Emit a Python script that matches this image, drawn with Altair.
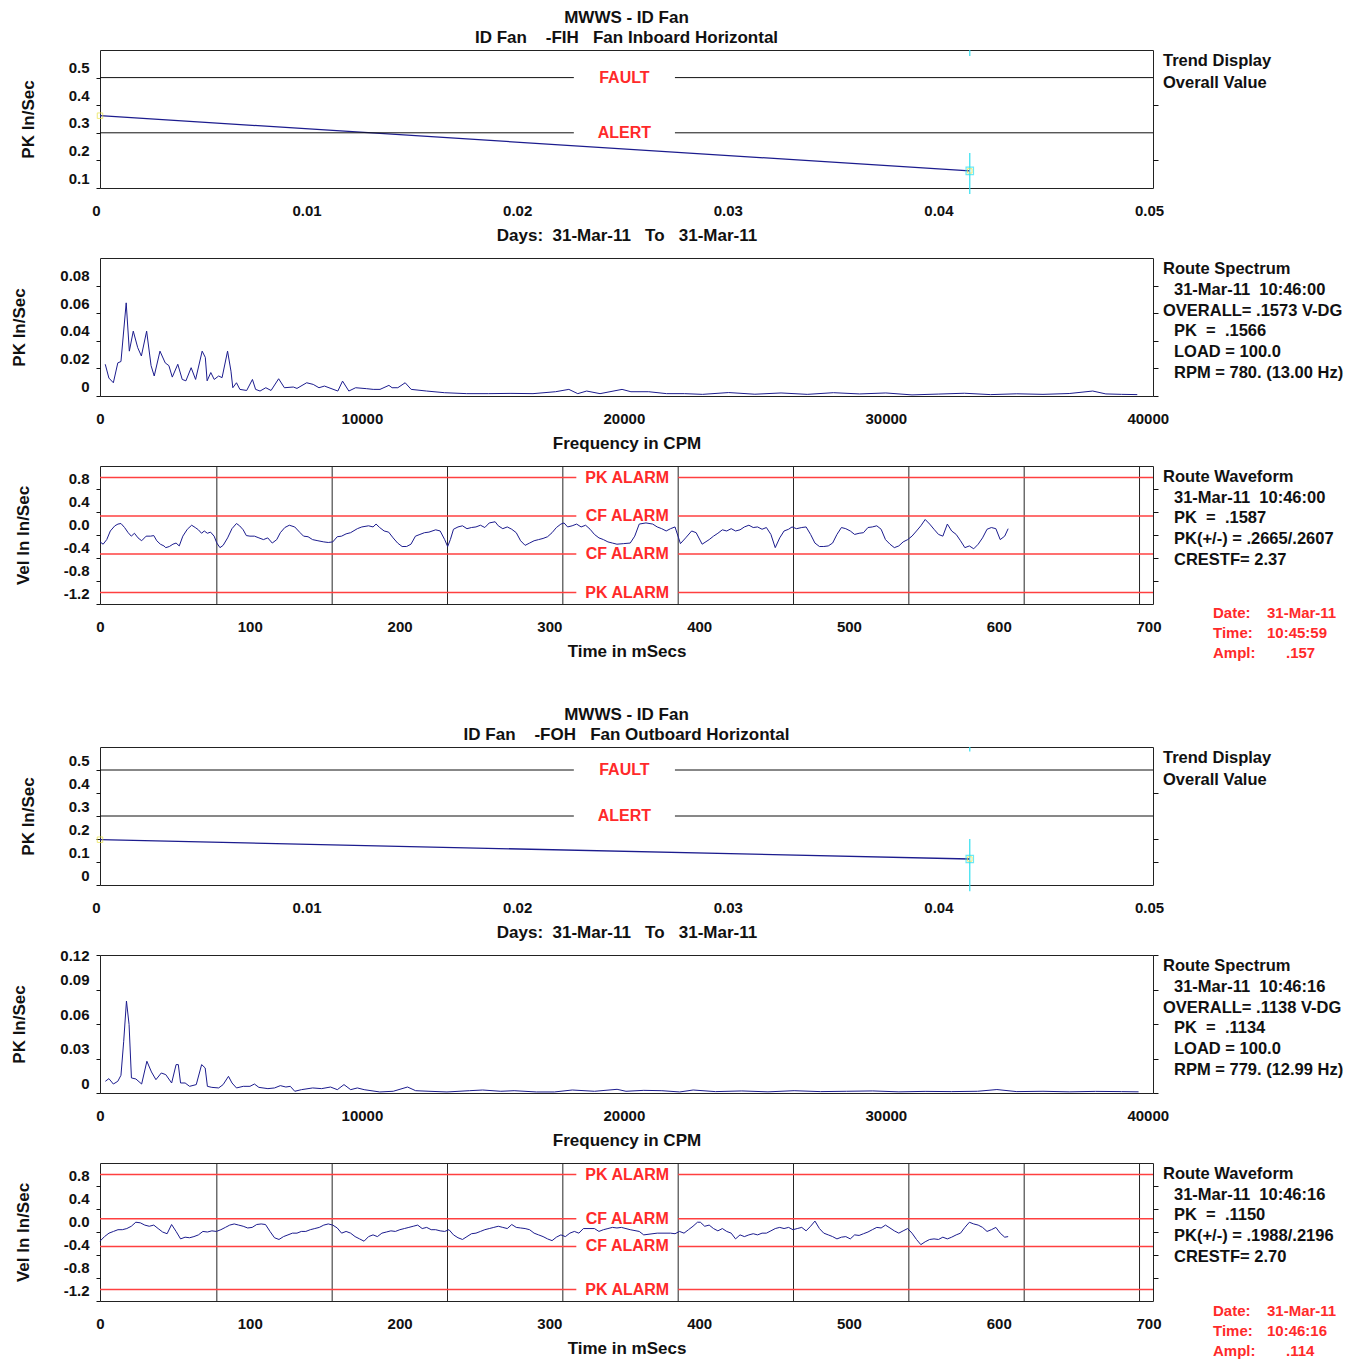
import altair as alt
import pandas as pd

FONT = "Liberation Sans"
INK = "#111111"
NAVY = "#1c1c8e"
RED = "#ff2a2a"
ALARM_RED = "#ff4040"
CYAN = "#30e0f0"
W = 1053
H = 138

# ---------------- data ----------------
# Trend displays (days vs overall PK in/sec)
trend_x_domain = [0.0, 0.05]
trend_x_ticks = [0.0, 0.01, 0.02, 0.03, 0.04, 0.05]
trend_limit_names = ["FAULT", "ALERT"]
trend_limit_vals = [0.5, 0.3]
trend_label_gap = [0.0225, 0.0273]

trend1_days = [0.0, 0.0413]
trend1_vals = [0.362, 0.162]
trend1_y_domain = [0.1, 0.6]
trend1_y_ticks = [0.1, 0.2, 0.3, 0.4, 0.5]
trend1_right_ticks = [0.2, 0.4]
trend1_cursor_lo = [0.078, 0.578]
trend1_cursor_hi = [0.227, 0.6]

trend2_days = [0.0, 0.0413]
trend2_vals = [0.197, 0.113]
trend2_y_domain = [0.0, 0.6]
trend2_y_ticks = [0.0, 0.1, 0.2, 0.3, 0.4, 0.5]
trend2_right_ticks = [0.1, 0.2, 0.4]
trend2_cursor_lo = [-0.027, 0.58]
trend2_cursor_hi = [0.2, 0.6]
cursor_day = 0.0413

# Spectra (CPM vs PK in/sec)
spec_x_domain = [0, 40200]
spec_x_ticks = [0, 10000, 20000, 30000, 40000]

spec1_cpm = [200, 340, 510, 680, 800, 1000, 1120, 1270, 1440, 1580, 1780, 1950, 2070, 2290, 2490,
             2630, 2760, 2970, 3140, 3280, 3480, 3650, 3900, 4020, 4090, 4230, 4360, 4530, 4660,
             4870, 5000, 5070, 5210, 5340, 5600, 5820, 5940, 6110, 6330, 6530, 6820, 7040, 7380,
             7520, 7890, 8140, 8360, 8570, 9080, 9260, 9500, 9760, 10180, 10430, 10690, 11030,
             11150, 11370, 11650, 11880, 12470, 13150, 14000, 14840, 15690, 16530, 17390, 17900,
             18240, 18580, 19090, 19930, 20270, 20950, 21630, 22310, 23000, 24000, 25000, 26000,
             27000, 28000, 29000, 30000, 31000, 32000, 33000, 34000, 35000, 36000, 37000, 37900,
             38400, 39000, 39600]
spec1_amp = [0.023, 0.013, 0.0096, 0.024, 0.025, 0.0675, 0.0325, 0.047, 0.035, 0.029, 0.047, 0.022,
             0.0145, 0.0325, 0.024, 0.022, 0.0137, 0.023, 0.012, 0.011, 0.0205, 0.012, 0.0325, 0.028,
             0.011, 0.017, 0.012, 0.0145, 0.0133, 0.0325, 0.018, 0.006, 0.0096, 0.0048, 0.004, 0.012,
             0.0048, 0.0036, 0.006, 0.004, 0.0125, 0.006, 0.0065, 0.0055, 0.0096, 0.0084, 0.006,
             0.0072, 0.0036, 0.0108, 0.0036, 0.006, 0.0053, 0.0048, 0.0048, 0.0077, 0.006, 0.006,
             0.0096, 0.0048, 0.0036, 0.0024, 0.0017, 0.0017, 0.0019, 0.0017, 0.0031, 0.0048, 0.0017,
             0.0036, 0.0017, 0.0048, 0.0031, 0.0031, 0.0017, 0.0017, 0.0012, 0.0025, 0.0013, 0.0022,
             0.0012, 0.0024, 0.0015, 0.0022, 0.0008, 0.0014, 0.0020, 0.0010, 0.0016, 0.0012, 0.0018,
             0.0036, 0.0015, 0.0012, 0.0010]
spec1_y_domain = [0.0, 0.1]
spec1_y_ticks = [0.0, 0.02, 0.04, 0.06, 0.08]

spec2_cpm = [205, 340, 510, 680, 800, 905, 1010, 1110, 1200, 1370, 1590, 1790, 1965, 2135, 2340,
             2510, 2735, 2905, 2990, 3075, 3250, 3420, 3675, 3880, 4015, 4100, 4270, 4530, 4700,
             4905, 5040, 5210, 5470, 5725, 5895, 6065, 6410, 6665, 6885, 7095, 7265, 7435, 7690,
             8120, 8460, 8800, 9060, 9315, 9570, 9825, 10085, 10680, 11195, 11740, 12050, 12560,
             13245, 14100, 14610, 15300, 15810, 16660, 17350, 18030, 18880, 19740, 20080, 20760,
             21450, 22130, 22645, 23500, 24500, 25500, 26500, 27500, 28500, 29500, 30500, 31500,
             32500, 33500, 34240, 35000, 36000, 37000, 38000, 39000, 39650]
spec2_amp = [0.0102, 0.0125, 0.0078, 0.0102, 0.0154, 0.045, 0.080, 0.0596, 0.0131, 0.0122, 0.0078,
             0.0276, 0.0183, 0.0116, 0.0174, 0.016, 0.0087, 0.0247, 0.0247, 0.0087, 0.0087, 0.0058,
             0.0073, 0.0247, 0.0218, 0.0058, 0.0049, 0.0044, 0.0073, 0.0145, 0.0087, 0.0044, 0.0058,
             0.0058, 0.0078, 0.0049, 0.0038, 0.0044, 0.0064, 0.0052, 0.0058, 0.0015, 0.0029, 0.0044,
             0.0038, 0.0052, 0.0029, 0.0073, 0.0029, 0.0044, 0.0029, 0.0009, 0.0015, 0.0052, 0.002,
             0.0015, 0.0009, 0.002, 0.0026, 0.0015, 0.002, 0.0009, 0.0009, 0.0026, 0.0015, 0.0032,
             0.0015, 0.0023, 0.002, 0.0009, 0.0026, 0.0012, 0.0018, 0.0010, 0.0020, 0.0012, 0.0015,
             0.0018, 0.0010, 0.0014, 0.0012, 0.0015, 0.0030, 0.0012, 0.0015, 0.0010, 0.0014, 0.0012,
             0.0010]
spec2_y_domain = [0.0, 0.12]
spec2_y_ticks = [0.0, 0.03, 0.06, 0.09, 0.12]

# Waveforms (ms vs velocity in/sec)
wave_x_domain = [0, 703]
wave_x_ticks = [0, 100, 200, 300, 400, 500, 600, 700]
wave_y_domain = [-1.2, 1.2]
wave_y_ticks = [0.8, 0.4, 0.0, -0.4, -0.8, -1.2]
wave_right_ticks = [0.8, 0.4, 0.0, -0.4, -0.8]
wave_rev_marks = [78, 155, 232, 309, 386, 463, 540, 617, 694]
wave_alarm_names = ["PK ALARM", "CF ALARM", "CF ALARM", "PK ALARM"]
wave1_alarm_vals = [1.0, 0.33, -0.33, -1.0]
wave2_alarm_vals = [1.0, 0.23, -0.25, -1.0]
wave_label_gap = [318, 386]

wave1_ms = [0, 2.1, 4.5, 6.9, 9.9, 12.0, 14.0, 16.4, 18.8, 20.9, 23.0, 25.4, 27.8, 30.8, 33.8, 35.9,
            37.9, 40.3, 42.7, 43.9, 46.3, 48.7, 50.8, 52.9, 55.3, 58.3, 61.2, 63.6, 65.7, 67.8, 69.6,
            71.7, 73.8, 76.2, 78.0, 80.1, 82.2, 85.2, 88.1, 91.1, 93.2, 95.6, 97.7, 100.1, 103.1,
            106.1, 109.1, 112.0, 115.0, 118.0, 120.4, 123.4, 126.4, 130.0, 133.6, 135.9, 138.9,
            141.9, 145.5, 149.4, 152.4, 155.4, 158.4, 161.3, 164.3, 167.3, 171.8, 174.8, 179.3,
            182.3, 184.3, 186.7, 189.7, 192.7, 195.7, 198.7, 201.7, 204.7, 207.6, 210.6, 213.6,
            216.6, 219.6, 224.1, 227.1, 230.1, 232.1, 233.9, 236.0, 239.0, 242.0, 245.0, 248.0,
            251.0, 254.0, 256.9, 259.9, 263.8, 265.9, 268.9, 271.9, 274.9, 277.9, 280.8, 283.8,
            286.8, 289.8, 292.8, 295.8, 298.8, 301.8, 304.7, 307.7, 309.8, 312.2, 315.2, 318.2,
            321.2, 324.2, 327.2, 330.1, 333.1, 336.1, 339.1, 342.1, 345.1, 349.6, 354.0, 357.0,
            360.0, 364.5, 369.0, 372.0, 375.0, 378.0, 380.9, 383.9, 387.5, 391.0, 395.0, 398.0,
            402.0, 406.7, 409.6, 412.5, 415.5, 418.4, 421.4, 424.3, 427.3, 430.2, 433.2, 436.1,
            439.0, 442.0, 444.9, 447.9, 450.8, 453.8, 456.7, 459.7, 462.0, 465.0, 468.5, 471.4,
            474.4, 477.3, 480.3, 483.2, 486.2, 489.1, 492.0, 495.0, 497.9, 500.9, 503.8, 506.8,
            509.7, 512.7, 515.6, 518.6, 521.5, 524.4, 527.4, 530.3, 533.3, 536.2, 539.2, 542.1,
            545.1, 548.0, 550.9, 553.9, 556.8, 559.8, 562.7, 565.7, 568.6, 571.6, 574.5, 577.4,
            580.4, 583.3, 586.3, 589.2, 592.2, 595.1, 598.1, 601.0, 604.0, 606.3]
wave1_vel = [-0.12, -0.16, -0.08, 0.07, 0.16, 0.19, 0.20, 0.13, 0.04, -0.02, 0.03, -0.05, -0.10,
             -0.02, -0.02, -0.01, -0.10, -0.16, -0.19, -0.22, -0.20, -0.16, -0.14, -0.19, -0.02,
             0.10, 0.17, 0.13, 0.09, 0.03, 0.07, 0.03, 0.05, -0.02, -0.14, -0.22, -0.18, -0.05,
             0.11, 0.20, 0.16, 0.09, -0.01, -0.02, -0.02, -0.05, -0.08, -0.05, -0.14, -0.08, 0.04,
             0.13, 0.17, 0.14, 0.04, -0.02, -0.03, -0.08, -0.10, -0.12, -0.13, -0.12, -0.03, -0.02,
             0.02, 0.04, 0.11, 0.14, 0.16, 0.14, 0.19, 0.13, 0.07, 0.05, -0.05, -0.14, -0.20, -0.20,
             -0.16, -0.02, 0.01, 0.04, 0.05, 0.09, 0.07, -0.08, -0.20, -0.08, 0.10, 0.14, 0.16,
             0.11, 0.13, 0.14, 0.17, 0.13, 0.21, 0.23, 0.16, 0.11, 0.14, 0.10, 0.04, -0.10, -0.18,
             -0.14, -0.10, -0.08, -0.06, -0.03, 0.04, 0.13, 0.19, 0.21, 0.14, 0.16, 0.19, 0.14,
             0.17, 0.10, 0.01, -0.05, -0.08, -0.12, -0.14, -0.16, -0.15, -0.14, -0.02, 0.19, 0.21,
             0.19, 0.14, 0.11, 0.07, 0.11, 0.14, -0.15, -0.05, 0.07, 0.04, -0.16, -0.08, -0.02,
             0.03, 0.09, 0.07, 0.11, 0.07, 0.09, 0.14, 0.17, 0.13, 0.14, 0.10, 0.13, 0.01, -0.22,
             -0.05, 0.07, 0.10, 0.14, 0.11, 0.13, 0.14, 0.01, -0.14, -0.20, -0.20, -0.19, -0.14,
             0.01, 0.13, 0.11, 0.07, 0.01, 0.03, 0.04, 0.13, 0.14, 0.16, 0.10, -0.08, -0.16, -0.22,
             -0.19, -0.12, -0.08, -0.02, 0.07, 0.16, 0.27, 0.19, 0.10, 0.01, -0.02, 0.19, 0.07,
             0.01, -0.10, -0.22, -0.19, -0.24, -0.16, -0.05, 0.10, 0.13, 0.11, -0.08, -0.02, 0.11]

wave2_ms = [0, 3.0, 6.0, 9.0, 12.0, 14.9, 17.9, 20.9, 23.9, 26.9, 29.9, 32.9, 35.9, 38.8, 41.8, 44.8,
            47.8, 50.8, 53.8, 56.8, 59.8, 62.7, 65.7, 68.7, 71.7, 74.7, 77.7, 80.7, 83.7, 86.6, 89.6,
            92.6, 95.6, 98.6, 101.6, 104.6, 107.6, 110.5, 113.5, 116.5, 119.5, 122.5, 125.5, 128.5,
            131.5, 134.4, 137.4, 140.4, 143.4, 146.4, 149.4, 152.4, 155.4, 158.4, 161.3, 164.3,
            167.3, 170.3, 173.3, 176.3, 179.3, 182.3, 185.2, 188.2, 191.2, 194.2, 197.2, 200.2,
            203.2, 206.2, 209.1, 212.1, 215.1, 218.1, 221.1, 224.1, 227.1, 230.1, 233.0, 236.0,
            239.0, 242.0, 245.0, 248.0, 251.0, 254.0, 256.9, 259.9, 262.9, 265.9, 268.9, 271.9,
            274.9, 277.9, 280.8, 283.8, 286.8, 289.8, 292.8, 295.8, 298.8, 301.8, 304.7, 307.7,
            310.7, 313.7, 316.7, 319.7, 322.7, 330.1, 333.1, 336.1, 339.1, 342.1, 345.1, 348.1,
            354.0, 360.0, 363.0, 372.0, 380.9, 383.9, 386.9, 389.9, 392.9, 395.9, 398.9, 400.8,
            403.7, 406.7, 409.6, 412.5, 415.5, 418.4, 421.4, 424.3, 427.3, 430.2, 433.2, 436.1,
            439.0, 442.0, 444.9, 447.9, 450.8, 453.8, 456.7, 459.7, 462.6, 465.5, 468.5, 471.4,
            474.4, 477.3, 480.3, 483.2, 486.2, 489.1, 492.0, 495.0, 497.9, 500.9, 503.8, 506.8,
            509.7, 512.7, 515.6, 518.6, 521.5, 524.4, 527.4, 530.3, 533.3, 536.2, 539.2, 542.1,
            545.1, 548.0, 550.9, 553.9, 556.8, 559.8, 562.7, 565.7, 568.6, 571.6, 574.5, 577.4,
            580.4, 583.3, 586.3, 589.2, 592.2, 595.1, 598.1, 601.0, 604.0, 606.3]
wave2_vel = [-0.16, -0.08, -0.02, 0.01, 0.04, 0.04, 0.06, 0.10, 0.17, 0.16, 0.12, 0.10, 0.12, 0.06,
             0.00, -0.03, 0.13, 0.01, -0.12, -0.09, -0.10, -0.08, -0.05, 0.01, 0.00, 0.02, 0.01,
             0.04, 0.08, 0.12, 0.14, 0.12, 0.10, 0.07, 0.08, 0.13, 0.14, 0.13, 0.01, -0.10, -0.13,
             -0.08, -0.05, -0.02, -0.02, 0.01, 0.01, 0.04, 0.06, 0.08, 0.12, 0.14, 0.12, 0.07,
             -0.02, 0.01, -0.02, -0.08, -0.12, -0.16, -0.08, -0.05, -0.08, -0.02, 0.00, 0.02, 0.01,
             0.04, 0.06, 0.08, 0.10, 0.12, 0.06, 0.08, 0.04, 0.04, 0.02, 0.01, 0.04, -0.05, -0.10,
             -0.13, -0.08, -0.03, -0.02, 0.01, 0.04, 0.06, 0.08, 0.10, 0.08, 0.06, 0.13, 0.08, 0.07,
             0.06, 0.04, -0.02, -0.05, -0.08, -0.12, -0.15, -0.09, -0.05, -0.08, -0.02, 0.01, -0.02,
             0.06, 0.06, 0.01, 0.04, 0.06, 0.08, 0.07, 0.08, 0.04, 0.01, -0.05, -0.02, -0.02, -0.03,
             0.01, -0.02, 0.04, 0.10, 0.17, 0.17, 0.10, 0.12, 0.06, 0.02, 0.06, 0.01, -0.02, -0.12,
             -0.05, -0.08, -0.05, -0.03, -0.05, -0.02, -0.02, 0.02, 0.06, 0.08, 0.06, 0.08, 0.04,
             0.06, 0.08, 0.02, 0.10, 0.19, 0.06, -0.02, -0.05, -0.08, -0.12, -0.09, -0.08, -0.12,
             -0.05, -0.06, -0.03, 0.00, 0.04, 0.08, 0.07, 0.12, 0.07, 0.02, -0.02, 0.02, 0.06,
             -0.02, -0.13, -0.22, -0.17, -0.13, -0.12, -0.13, -0.09, -0.12, -0.09, -0.05, -0.02,
             0.08, 0.17, 0.14, 0.12, 0.08, 0.01, 0.04, 0.08, -0.02, -0.09, -0.08]

# Text blocks
panel_title = "MWWS - ID Fan"
sub1 = "ID Fan    -FIH   Fan Inboard Horizontal"
sub2 = "ID Fan    -FOH   Fan Outboard Horizontal"
trend_xtitle = "Days:  31-Mar-11   To   31-Mar-11"
spec_xtitle = "Frequency in CPM"
wave_xtitle = "Time in mSecs"

trend_info = ["Trend Display", "Overall Value"]
spec1_info = ["Route Spectrum", "  31-Mar-11  10:46:00", "OVERALL= .1573 V-DG", "  PK  =  .1566",
              "  LOAD = 100.0", "  RPM = 780. (13.00 Hz)"]
spec2_info = ["Route Spectrum", "  31-Mar-11  10:46:16", "OVERALL= .1138 V-DG", "  PK  =  .1134",
              "  LOAD = 100.0", "  RPM = 779. (12.99 Hz)"]
wave1_info = ["Route Waveform", "  31-Mar-11  10:46:00", "  PK  =  .1587", "  PK(+/-) = .2665/.2607",
              "  CRESTF= 2.37"]
wave2_info = ["Route Waveform", "  31-Mar-11  10:46:16", "  PK  =  .1150", "  PK(+/-) = .1988/.2196",
              "  CRESTF= 2.70"]
wave1_red = [("Date:", "31-Mar-11"), ("Time:", "10:45:59"), ("Ampl:", ".157")]
wave2_red = [("Date:", "31-Mar-11"), ("Time:", "10:46:16"), ("Ampl:", ".114")]


def keep_spaces(s):
    return s.replace(" ", "\u00a0")


# ---------------- helpers ----------------
def x_axis(values, title, expr, offset=0):
    return alt.Axis(values=values, title=keep_spaces(title), labelExpr=expr, ticks=False, domain=False,
                    grid=False, labelFlush=False, labelOverlap=False, labelPadding=15, labelOffset=offset,
                    labelFont=FONT, labelFontSize=15, labelFontWeight="bold", labelColor=INK,
                    titleFont=FONT, titleFontSize=17, titleFontWeight="bold", titleColor=INK,
                    titlePadding=9)


def y_axis(values, title, expr, offset):
    return alt.Axis(values=values, title=title, labelExpr=expr, tickSize=4, tickColor=INK,
                    domain=False, grid=False, labelOverlap=False, labelPadding=7, labelOffset=offset,
                    labelFont=FONT, labelFontSize=15, labelFontWeight="bold", labelColor=INK,
                    titleFont=FONT, titleFontSize=17, titleFontWeight="bold", titleColor=INK,
                    titlePadding=31)


def right_axis(values):
    return alt.Axis(orient="right", values=values, labels=False, title="", tickSize=5, tickColor=INK,
                    domain=False, grid=False)


def text_layers(lines, x0, y0, step, color=INK, size=16.5, indent=11):
    out = []
    for i, s in enumerate(lines):
        dx = x0 + (indent if s.startswith("  ") else 0)
        out.append(
            alt.Chart(pd.DataFrame({"t": [keep_spaces(s.strip())]}))
            .mark_text(align="left", baseline="middle", font=FONT, fontSize=size, fontWeight="bold",
                       color=color)
            .encode(x=alt.value(dx), y=alt.value(y0 + i * step), text="t:N")
        )
    return out


def red_layers(pairs, y0):
    out = []
    for i, (a, b) in enumerate(pairs):
        for s, dx in ((a, 1113), (b, 1167 if len(b) > 5 else 1186)):
            out.append(
                alt.Chart(pd.DataFrame({"t": [s]}))
                .mark_text(align="left", baseline="middle", font=FONT, fontSize=15, fontWeight="bold",
                           color=RED)
                .encode(x=alt.value(dx), y=alt.value(y0 + i * 20), text="t:N")
            )
    return out


def title_params(sub):
    return alt.TitleParams(text=panel_title, subtitle=keep_spaces(sub), anchor="middle",
                           font=FONT, fontSize=17, fontWeight="bold", color=INK,
                           subtitleFont=FONT, subtitleFontSize=17, subtitleFontWeight="bold",
                           subtitleColor=INK, subtitlePadding=3, offset=2)


def segments(vals, gap, dom):
    rows = []
    for v in vals:
        rows.append({"a": dom[0], "b": gap[0], "v": v})
        rows.append({"a": gap[1], "b": dom[1], "v": v})
    return pd.DataFrame(rows)


def trend_panel(days, vals, ydom, yticks, rticks, clo, chi, sub, info_y0):
    xsc = alt.Scale(domain=trend_x_domain, nice=False, zero=False)
    ysc = alt.Scale(domain=ydom, nice=False, zero=False)
    df = pd.DataFrame({"day": days, "val": vals})
    line = alt.Chart(df).mark_line(color=NAVY, strokeWidth=1.3).encode(
        x=alt.X("day:Q", scale=xsc,
                axis=x_axis(trend_x_ticks, trend_xtitle,
                            "datum.value == 0 ? '0' : format(datum.value, '.2f')", -4)),
        y=alt.Y("val:Q", scale=ysc,
                axis=y_axis(yticks, "PK In/Sec",
                            "datum.value == 0 ? '0' : format(datum.value, '.1f')", -10)))
    rules = alt.Chart(segments(trend_limit_vals, trend_label_gap, trend_x_domain)).mark_rule(
        color=INK, strokeWidth=1).encode(
        x=alt.X("a:Q", scale=xsc), x2="b:Q",
        y=alt.Y("v:Q", scale=ysc, axis=right_axis(rticks)))
    lab = pd.DataFrame({"name": trend_limit_names, "v": trend_limit_vals,
                        "d": [sum(trend_label_gap) / 2] * len(trend_limit_vals)})
    labels = alt.Chart(lab).mark_text(color=RED, font=FONT, fontSize=16, fontWeight="bold",
                                      baseline="middle").encode(
        x=alt.X("d:Q", scale=xsc), y=alt.Y("v:Q", scale=ysc, axis=None), text="name:N")
    cur = pd.DataFrame({"d": [cursor_day] * len(clo), "lo": clo, "hi": chi})
    cursor = alt.Chart(cur).mark_rule(color=CYAN, strokeWidth=1.2).encode(
        x=alt.X("d:Q", scale=xsc), y=alt.Y("lo:Q", scale=ysc, axis=None), y2="hi:Q")
    end = alt.Chart(df.iloc[[-1]]).mark_point(shape="square", filled=False, color=CYAN, size=55,
                                              strokeWidth=1.2).encode(
        x=alt.X("day:Q", scale=xsc), y=alt.Y("val:Q", scale=ysc, axis=None))
    end_in = alt.Chart(df.iloc[[-1]]).mark_point(shape="square", filled=False, color="#e8e040",
                                                 size=20, strokeWidth=1).encode(
        x=alt.X("day:Q", scale=xsc), y=alt.Y("val:Q", scale=ysc, axis=None))
    start = alt.Chart(df.iloc[[0]]).mark_point(shape="square", filled=False, color="#e8e040",
                                               size=30, strokeWidth=1).encode(
        x=alt.X("day:Q", scale=xsc), y=alt.Y("val:Q", scale=ysc, axis=None))
    layers = [line, rules, labels, cursor, end, end_in, start] + text_layers(trend_info, 1063, info_y0, 21.5)
    return alt.layer(*layers).resolve_axis(y="independent").properties(
        width=W, height=H, title=title_params(sub))


def spec_panel(cpm, amp, ydom, yticks, ylab_off, lines):
    xsc = alt.Scale(domain=spec_x_domain, nice=False, zero=False)
    ysc = alt.Scale(domain=ydom, nice=False, zero=False)
    df = pd.DataFrame({"cpm": cpm, "amp": amp})
    line = alt.Chart(df).mark_line(color=NAVY, strokeWidth=1).encode(
        x=alt.X("cpm:Q", scale=xsc, axis=x_axis(spec_x_ticks, spec_xtitle, "format(datum.value, 'd')")),
        y=alt.Y("amp:Q", scale=ysc,
                axis=y_axis(yticks, "PK In/Sec",
                            "datum.value == 0 ? '0' : format(datum.value, '.2f')", ylab_off)))
    ghost = alt.Chart(df).mark_line(opacity=0).encode(
        x=alt.X("cpm:Q", scale=xsc),
        y=alt.Y("amp:Q", scale=ysc, axis=right_axis(yticks)))
    layers = [line, ghost] + text_layers(lines, 1063, 11, 20.8)
    return alt.layer(*layers).resolve_axis(y="independent").properties(width=W, height=H)


def wave_panel(ms, vel, alarm_vals, info, red, red_y0):
    xsc = alt.Scale(domain=wave_x_domain, nice=False, zero=False)
    ysc = alt.Scale(domain=wave_y_domain, nice=False, zero=False)
    df = pd.DataFrame({"ms": ms, "vel": vel})
    revs = alt.Chart(pd.DataFrame({"r": wave_rev_marks})).mark_rule(color="#262626", strokeWidth=1).encode(
        x=alt.X("r:Q", scale=xsc,
                axis=x_axis(wave_x_ticks, wave_xtitle, "format(datum.value, 'd')")))
    alarms = alt.Chart(segments(alarm_vals, wave_label_gap, wave_x_domain)).mark_rule(
        color=ALARM_RED, strokeWidth=1.5).encode(
        x=alt.X("a:Q", scale=xsc), x2="b:Q",
        y=alt.Y("v:Q", scale=ysc,
                axis=y_axis(wave_y_ticks, "Vel In In/Sec",
                            "replace(format(datum.value, '.1f'), '\u2212', '-')", -11)))
    line = alt.Chart(df).mark_line(color=NAVY, strokeWidth=1).encode(
        x=alt.X("ms:Q", scale=xsc),
        y=alt.Y("vel:Q", scale=ysc, axis=right_axis(wave_right_ticks)))
    lab = pd.DataFrame({"name": wave_alarm_names, "v": alarm_vals,
                        "t": [sum(wave_label_gap) / 2] * len(alarm_vals)})
    labels = alt.Chart(lab).mark_text(color=RED, font=FONT, fontSize=16, fontWeight="bold",
                                      baseline="middle").encode(
        x=alt.X("t:Q", scale=xsc), y=alt.Y("v:Q", scale=ysc, axis=None), text="name:N")
    layers = [revs, alarms, line, labels] + text_layers(info, 1063, 11, 20.7) + red_layers(red, red_y0)
    return alt.layer(*layers).resolve_axis(y="independent").properties(width=W, height=H)


p1 = trend_panel(trend1_days, trend1_vals, trend1_y_domain, trend1_y_ticks, trend1_right_ticks,
                 trend1_cursor_lo, trend1_cursor_hi, sub1, 11)
p2 = spec_panel(spec1_cpm, spec1_amp, spec1_y_domain, spec1_y_ticks, -10, spec1_info)
p3 = wave_panel(wave1_ms, wave1_vel, wave1_alarm_vals, wave1_info, wave1_red, 147)
p4 = trend_panel(trend2_days, trend2_vals, trend2_y_domain, trend2_y_ticks, trend2_right_ticks,
                 trend2_cursor_lo, trend2_cursor_hi, sub2, 11)
p5 = spec_panel(spec2_cpm, spec2_amp, spec2_y_domain, spec2_y_ticks,
                {"condition": {"test": "datum.value >= 0.12", "value": 0}, "value": -10}, spec2_info)
p6 = wave_panel(wave2_ms, wave2_vel, wave2_alarm_vals, wave2_info, wave2_red, 148)

# invisible spacer between the two machine blocks
spacer = alt.Chart(pd.DataFrame({"t": [""]})).mark_text().encode(text="t:N").properties(
    width=W, height=3, view=alt.ViewBackground(strokeOpacity=0))

chart = (
    alt.vconcat(p1, p2, p3, spacer, p4, p5, p6, spacing=70, bounds="flush")
    .properties(padding={"left": 2, "top": 0, "right": 5, "bottom": 5}, background="white")
    .configure_view(stroke="#222222", strokeWidth=1)
)
chart.save("out.html", embed_options={"renderer": "svg", "actions": False})
